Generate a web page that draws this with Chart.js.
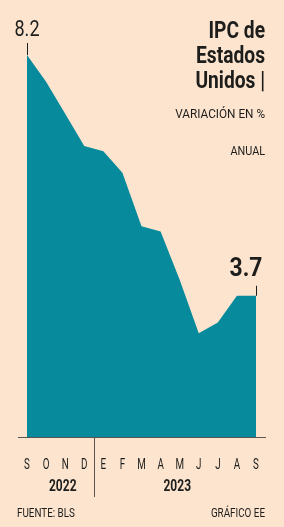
<!DOCTYPE html>
<html>
<head>
<meta charset="utf-8">
<script src="https://cdn.jsdelivr.net/npm/chart.js@4/dist/chart.umd.min.js"></script>
<style>
  html, body { margin: 0; padding: 0; background: #fce4cf; }
  #wrap { position: relative; width: 284px; height: 527px; }
</style>
</head>
<body>
<div id="wrap"><canvas id="cpiChart" width="284" height="527"></canvas></div>
<script>
(function() {
    'use strict';

    // Data: US CPI, year-over-year %
    const months = ['S', 'O', 'N', 'D', 'E', 'F', 'M', 'A', 'M', 'J', 'J', 'A', 'S'];
    const cpiValues = [8.2, 7.7, 7.1, 6.5, 6.4, 6.0, 5.0, 4.9, 4.0, 3.0, 3.2, 3.7, 3.7];
    const yearLabels = ['2022', '2023'];
    const titleLines = ['IPC de', 'Estados', 'Unidos |'];
    const subtitleLines = ['VARIACIÓN EN %', 'ANUAL'];

    const FONT = 'Roboto, "Liberation Sans", sans-serif';
    const INK = '#1d1d1b';

    /**
     * Draw text squeezed horizontally to mimic a condensed face
     */
    function squeezed(ctx, text, x, y, font, align, sx) {
        ctx.save();
        ctx.font = font;
        ctx.textAlign = align;
        ctx.textBaseline = 'middle';
        ctx.translate(x, y);
        ctx.scale(sx, 1);
        ctx.fillText(text, 0, 0);
        ctx.restore();
    }

    // Annotations, labels and rules drawn on top of the chart
    const overlay = {
        id: 'overlay',
        afterDatasetsDraw(chart) {
            const ctx = chart.ctx;
            const x = chart.scales.x;
            const y = chart.scales.y;
            const area = chart.chartArea;
            ctx.save();
            ctx.fillStyle = INK;

            // title block
            titleLines.forEach((t, i) => squeezed(ctx, t, 265, 32 + i * 25, 'bold 24px ' + FONT, 'right', 0.8));
            squeezed(ctx, subtitleLines[0], 265, 115, '12px ' + FONT, 'right', 0.98);
            squeezed(ctx, subtitleLines[1], 265, 152, '12px ' + FONT, 'right', 0.9);

            // first and last value callouts
            const x0 = x.getPixelForValue(0);
            const y0 = y.getPixelForValue(cpiValues[0]);
            const xn = x.getPixelForValue(cpiValues.length - 1);
            const yn = y.getPixelForValue(cpiValues[cpiValues.length - 1]);
            ctx.strokeStyle = INK;
            ctx.lineWidth = 1;
            ctx.beginPath();
            ctx.moveTo(x0 + 0.5, y0 - 12);
            ctx.lineTo(x0 + 0.5, y0);
            ctx.moveTo(xn + 0.5, yn - 10);
            ctx.lineTo(xn + 0.5, yn);
            ctx.stroke();
            squeezed(ctx, cpiValues[0].toFixed(1), x0, y0 - 25, '22px ' + FONT, 'center', 0.82);
            squeezed(ctx, cpiValues[cpiValues.length - 1].toFixed(1), xn - 10, yn - 26, 'bold 26px ' + FONT, 'center', 0.88);

            // baseline and year separator
            ctx.strokeStyle = '#5a5450';
            ctx.beginPath();
            ctx.moveTo(18, area.bottom + 0.5);
            ctx.lineTo(266, area.bottom + 0.5);
            const sepX = Math.round((x.getPixelForValue(3) + x.getPixelForValue(4)) / 2) + 0.5;
            ctx.moveTo(sepX, area.bottom);
            ctx.lineTo(sepX, area.bottom + 60);
            ctx.stroke();

            // month labels
            months.forEach((m, i) => squeezed(ctx, m, x.getPixelForValue(i), area.bottom + 28, '14px ' + FONT, 'center', 0.7));

            // years
            squeezed(ctx, yearLabels[0], (x0 + sepX) / 2 + 2, area.bottom + 50, 'bold 16px ' + FONT, 'center', 0.75);
            squeezed(ctx, yearLabels[1], (sepX + xn) / 2 + 2, area.bottom + 50, 'bold 16px ' + FONT, 'center', 0.75);

            // footer
            squeezed(ctx, 'FUENTE: BLS', 17, 514, '12px ' + FONT, 'left', 0.82);
            squeezed(ctx, 'GRÁFICO EE', 265, 514, '12px ' + FONT, 'right', 0.82);

            ctx.restore();
        }
    };

    new Chart(document.getElementById('cpiChart'), {
        type: 'line',
        data: {
            labels: months,
            datasets: [{
                data: cpiValues,
                fill: 'start',
                backgroundColor: '#078a9b',
                borderWidth: 0,
                pointRadius: 0,
                tension: 0
            }]
        },
        options: {
            responsive: false,
            animation: false,
            layout: { padding: { left: 27, right: 28, top: 55, bottom: 90 } },
            plugins: { legend: { display: false }, tooltip: { enabled: false } },
            scales: {
                x: { display: false },
                y: { display: false, min: 1.06, max: 8.2 }
            }
        },
        plugins: [overlay]
    });
})();
</script>
</body>
</html>
